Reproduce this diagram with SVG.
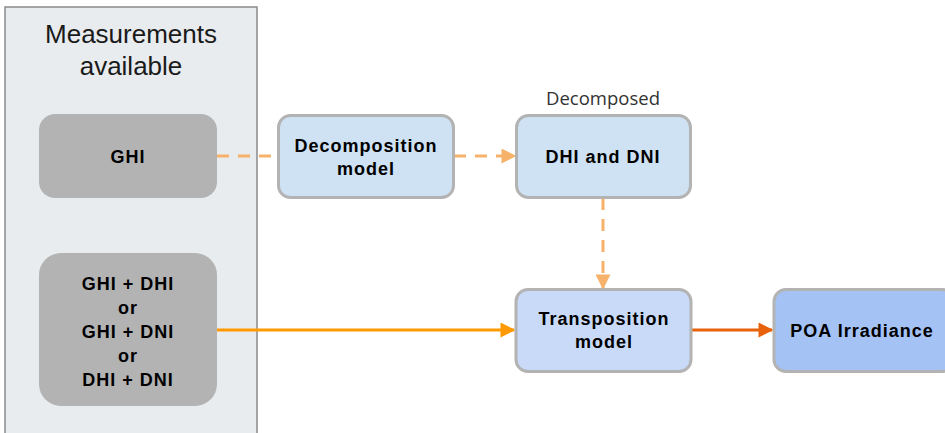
<svg xmlns="http://www.w3.org/2000/svg" width="945" height="433" viewBox="0 0 945 433">
<defs>
<style>
.node rect{stroke:#b3b3b3;stroke-width:3}
.lbl{font-family:"Liberation Sans",Arial,sans-serif;font-weight:bold;font-size:18px;letter-spacing:1px;fill:#000;text-anchor:middle}
.c{fill:none;stroke-width:3}
.dash{stroke:#f6b26b;stroke-dasharray:12,9}
</style>
<marker id="aL" viewBox="0 0 10 10" refX="9" refY="5" markerWidth="6" markerHeight="5" markerUnits="strokeWidth" orient="auto"><path d="M0,0L10,5L0,10Z" fill="#f6b26b"/></marker>
<marker id="aO" viewBox="0 0 10 10" refX="9" refY="5" markerWidth="6" markerHeight="5" markerUnits="strokeWidth" orient="auto"><path d="M0,0L10,5L0,10Z" fill="#ff9900"/></marker>
<marker id="aR" viewBox="0 0 10 10" refX="9" refY="5" markerWidth="6" markerHeight="5" markerUnits="strokeWidth" orient="auto"><path d="M0,0L10,5L0,10Z" fill="#e8620c"/></marker>
</defs>
<rect width="945" height="433" fill="#fff"/>
<g id="panel">
<rect x="5" y="7" width="252" height="440" fill="#e8ecee" stroke="#8a8a8a" stroke-width="1.5"/>
<text x="131" y="43" font-family="Liberation Sans,Arial,sans-serif" font-size="26" fill="#1a1a1a" text-anchor="middle">Measurements</text>
<text x="131" y="75" font-family="Liberation Sans,Arial,sans-serif" font-size="26" fill="#1a1a1a" text-anchor="middle">available</text>
</g>
<g id="connectors">
<path class="c dash" d="M217,156H278"/>
<path class="c dash" d="M454,156H515" marker-end="url(#aL)"/>
<path class="c dash" d="M603,198V288" marker-end="url(#aL)"/>
<path class="c" stroke="#ff9900" d="M217,330H514" marker-end="url(#aO)"/>
<path class="c" stroke="#e8620c" d="M692,330H772" marker-end="url(#aR)"/>
</g>
<g id="ghi">
<rect x="39" y="114" width="178" height="84" rx="16" fill="#b3b3b3"/>
<text class="lbl" x="128" y="163">GHI</text>
</g>
<g id="pairs">
<rect x="39" y="253" width="178" height="153" rx="22" fill="#b3b3b3"/>
<text class="lbl" x="128" y="290">GHI + DHI</text>
<text class="lbl" x="128" y="314">or</text>
<text class="lbl" x="128" y="338">GHI + DNI</text>
<text class="lbl" x="128" y="362">or</text>
<text class="lbl" x="128" y="386">DHI + DNI</text>
</g>
<g id="decomp" class="node">
<rect x="278.5" y="115.5" width="175" height="82" rx="12" fill="#cfe2f3"/>
<text class="lbl" x="366" y="152">Decomposition</text>
<text class="lbl" x="366" y="175">model</text>
</g>
<g id="dhidni" class="node">
<rect x="516.5" y="115.5" width="174" height="82" rx="12" fill="#cfe2f3"/>
<text x="603" y="105" font-family="Open Sans,Liberation Sans,sans-serif" font-size="18.5" fill="#333" text-anchor="middle">Decomposed</text>
<text class="lbl" x="603" y="163">DHI and DNI</text>
</g>
<g id="transp" class="node">
<rect x="516" y="289.5" width="175" height="82" rx="12" fill="#c9daf8"/>
<text class="lbl" x="604" y="325">Transposition</text>
<text class="lbl" x="604" y="348">model</text>
</g>
<g id="poa" class="node">
<rect x="774" y="289.5" width="180" height="82" rx="12" fill="#a4c2f4"/>
<text class="lbl" x="862" y="337">POA Irradiance</text>
</g>
</svg>
